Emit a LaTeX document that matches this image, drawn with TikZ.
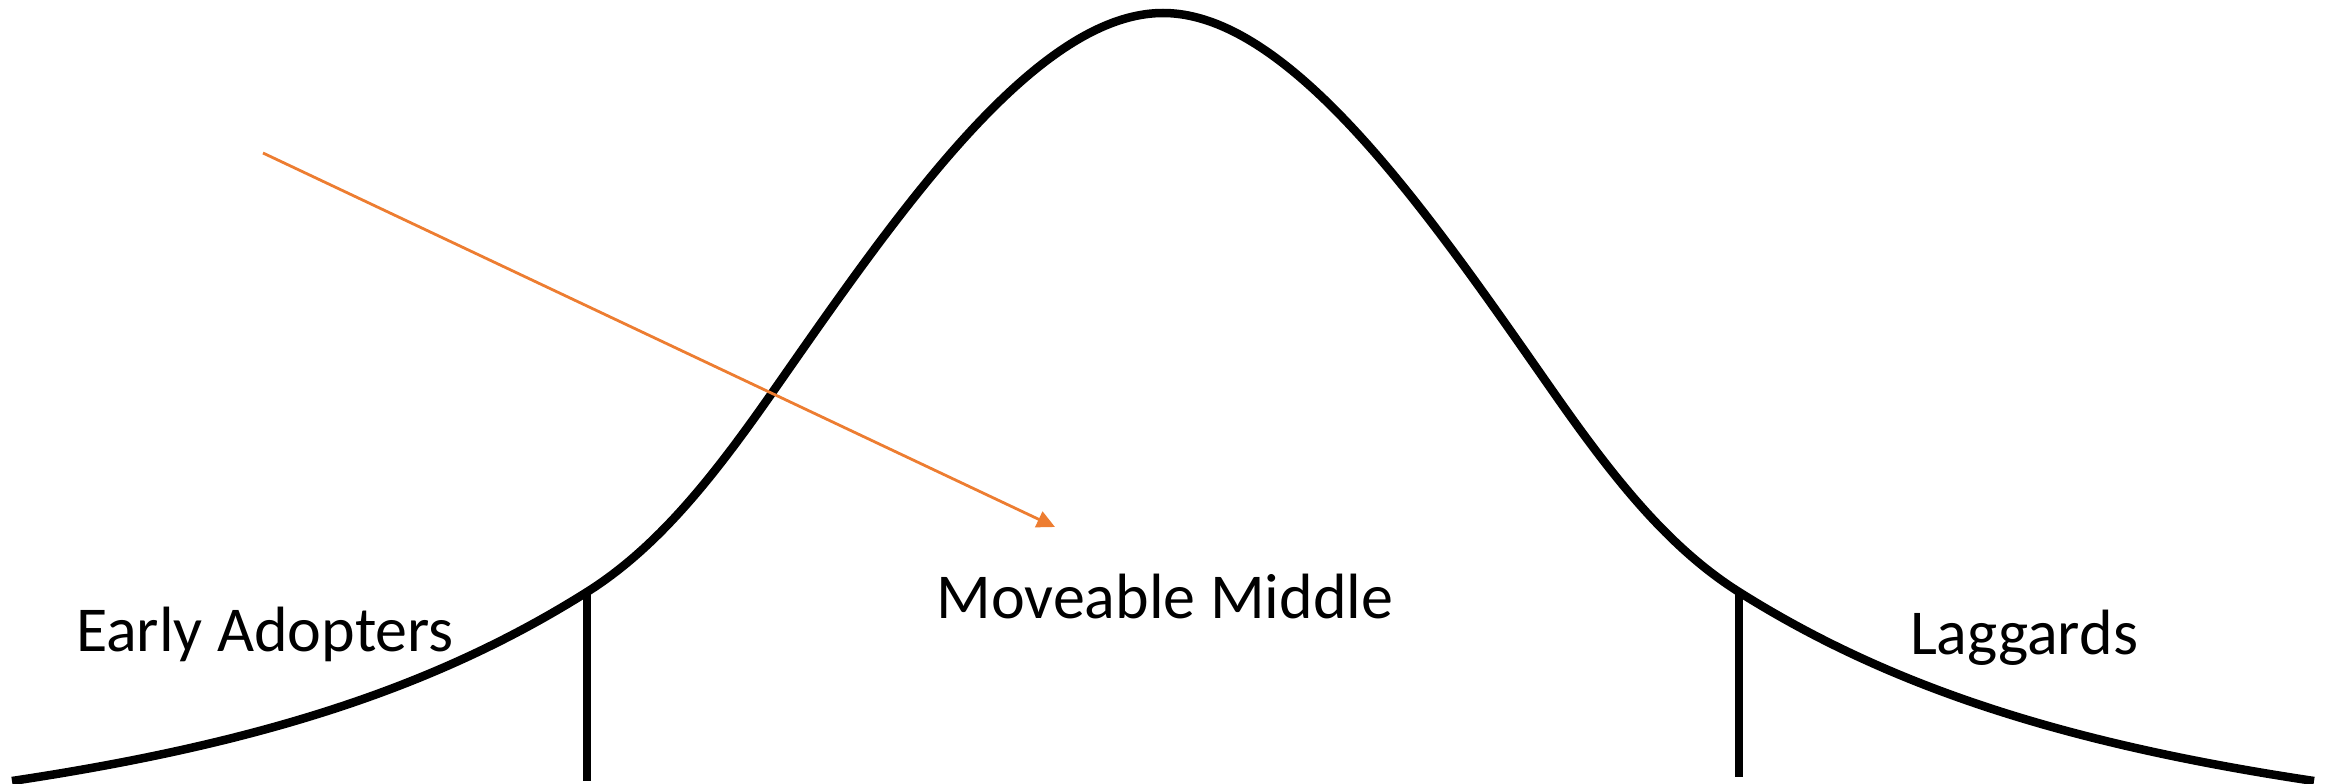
\documentclass[tikz,border=0pt]{standalone}
\usepackage{fontspec}
\setmainfont{Carlito}
\usetikzlibrary{arrows.meta}
\definecolor{officeorange}{HTML}{ED7D31}
\tikzset{
  bell/.style={line width=8.5pt, black, line join=round},
  divider/.style={line width=8pt, black},
  pointer/.style={line width=2.8pt, officeorange, -{Triangle[length=18pt,width=17pt]}},
  label/.style={anchor=base, inner sep=0pt, font=\fontsize{64}{70}\selectfont}
}
\begin{document}
\begin{tikzpicture}[x=1pt,y=-1pt]
\useasboundingbox (0,0) rectangle (2338,784);
% key points of the bell curve
\coordinate (ls) at (12,781);
\coordinate (jl) at (587,592);
\coordinate (il) at (772,393);
\coordinate (pk) at (1163,13);
\coordinate (ir) at (1554,393);
\coordinate (jr) at (1739,592);
\coordinate (re) at (2314,781);
% bell curve
\draw[bell] (ls) .. controls (262,743.5) and (437,686.5) .. (jl)
  .. controls (657,547.9) and (712,478.8) .. (il)
  .. controls (892,221.4) and (1033,13) .. (pk)
  .. controls (1293,13) and (1434,221.4) .. (ir)
  .. controls (1614,478.8) and (1669,547.9) .. (jr)
  .. controls (1889,686.5) and (2064,743.5) .. (re);
% dividers
\coordinate (bl) at (587,781);
\coordinate (br) at (1739,777);
\draw[divider] ([yshift=-2pt]jl) -- (bl);
\draw[divider] ([yshift=-2pt]jr) -- (br);
% labels
\node[label] (early) at (265,651) {Early Adopters};
\node[label] (middle) at (1165,618) {Moveable Middle};
\node[label] (lag) at (2024,654) {Laggards};
% orange arrow
\coordinate (as) at (263,153);
\coordinate (ae) at (1055,527);
\draw[pointer] (as) -- (ae);
\end{tikzpicture}
\end{document}
